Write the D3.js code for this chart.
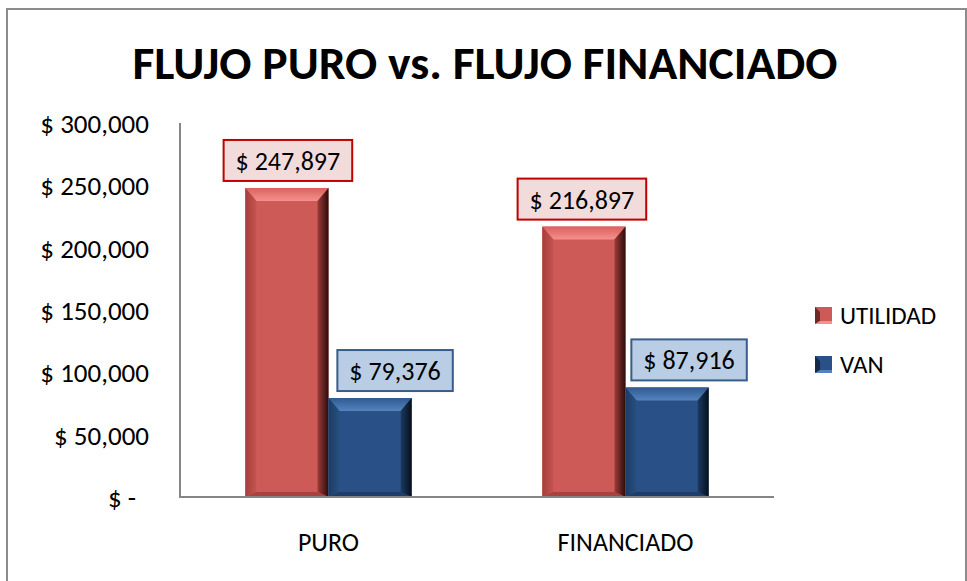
<!DOCTYPE html>
<html><head><meta charset="utf-8">
<script src="https://cdn.jsdelivr.net/npm/d3@7"></script>
<style>
html,body{margin:0;padding:0;background:#fff;}
svg text{font-family:Carlito,Lato,"Open Sans",sans-serif;fill:#000;}
</style></head>
<body>
<svg id="chart" width="967" height="581"></svg>
<script>
const title = "FLUJO PURO vs. FLUJO FINANCIADO";
const categories = ["PURO", "FINANCIADO"];
const seriesNames = ["UTILIDAD", "VAN"];
const utilidad = [247897, 216897];
const van = [79376, 87916];
const yTicks = [0, 50000, 100000, 150000, 200000, 250000, 300000];

const svg = d3.select("#chart");
const plot = {left: 180, right: 774, top: 123, bottom: 497};

// frame
svg.append("rect").attr("x", 7).attr("y", 9).attr("width", 959).attr("height", 620)
  .attr("fill", "#fff").attr("stroke", "#8c8c8c").attr("stroke-width", 2);

// title
svg.append("text").attr("x", 485).attr("y", 79).attr("text-anchor", "middle")
  .attr("font-weight", "bold").attr("font-size", 47)
  .attr("textLength", 705).attr("lengthAdjust", "spacingAndGlyphs")
  .text(title);

const y = d3.scaleLinear().domain([0, 300000]).range([plot.bottom, plot.top]);
const x0 = d3.scaleBand().domain(categories).range([plot.left, plot.right]).paddingInner(0.44).paddingOuter(0.22);
const x1 = d3.scaleBand().domain(seriesNames).range([0, x0.bandwidth()]).padding(0);

const fmt = v => v === 0 ? "$ -" : "$ " + d3.format(",")(v);

// y axis labels
const yAxis = d3.axisLeft(y).tickValues(yTicks).tickSize(0).tickPadding(0).tickFormat(fmt);
const gy = svg.append("g").attr("transform", `translate(${plot.left - 31},0)`).call(yAxis);
gy.select(".domain").remove();
gy.attr("font-size", null).attr("font-family", null);
gy.selectAll("text").style("font-size", "27px").attr("fill", "#000").attr("dy", "0.35em");
gy.selectAll(".tick").filter(d => d === 0).select("text").attr("x", -13);

// axis line
svg.append("line").attr("x1", plot.left).attr("x2", plot.left).attr("y1", plot.top).attr("y2", plot.bottom + 1)
  .attr("stroke", "#868686").attr("stroke-width", 2);

// gradients
const defs = svg.append("defs");
function lg(id, stops, x2, y2) {
  const g = defs.append("linearGradient").attr("id", id).attr("x1", 0).attr("y1", 0).attr("x2", x2).attr("y2", y2);
  stops.forEach(s => g.append("stop").attr("offset", s[0]).attr("stop-color", s[1]));
}
const pal = {
  UTILIDAD: {main: "#CD5A56", top: ["#D9625E", "#F5908C"], left: ["#A63E3B", "#C45450"], right: ["#9E3C39", "#2A0C0B"], bottom: "#A8423F"},
  VAN: {main: "#2A5187", top: ["#2F5A92", "#5583BD"], left: ["#1D3C66", "#28507F"], right: ["#1C3A63", "#07101C"], bottom: "#1E3D68"}
};
Object.entries(pal).forEach(([k, p]) => {
  lg("top" + k, [[0, p.top[0]], [1, p.top[1]]], 0, 1);
  lg("left" + k, [[0, p.left[0]], [1, p.left[1]]], 1, 0);
  lg("right" + k, [[0, p.right[0]], [1, p.right[1]]], 1, 0);
});

const rows = [];
categories.forEach((c, i) => {
  rows.push({cat: c, s: "UTILIDAD", v: utilidad[i]});
  rows.push({cat: c, s: "VAN", v: van[i]});
});

const bars = svg.append("g");
rows.forEach(d => {
  const xa = x0(d.cat) + x1(d.s), xb = xa + x1.bandwidth();
  const ya = y(d.v), yb = y(0);
  const p = pal[d.s];
  const b = 11, bt = 13, bb = 5;
  const g = bars.append("g");
  g.append("rect").attr("x", xa).attr("y", ya).attr("width", xb - xa).attr("height", yb - ya).attr("fill", p.main);
  g.append("path").attr("d", `M${xa},${ya}L${xb},${ya}L${xb - b},${ya + bt}L${xa + b},${ya + bt}Z`).attr("fill", `url(#top${d.s})`);
  g.append("path").attr("d", `M${xa},${ya}L${xa + b},${ya + bt}L${xa + b},${yb - bb}L${xa},${yb}Z`).attr("fill", `url(#left${d.s})`);
  g.append("path").attr("d", `M${xb},${ya}L${xb - b},${ya + bt}L${xb - b},${yb - bb}L${xb},${yb}Z`).attr("fill", `url(#right${d.s})`);
  g.append("path").attr("d", `M${xa},${yb}L${xa + b},${yb - bb}L${xb - b},${yb - bb}L${xb},${yb}Z`).attr("fill", p.bottom);
});

svg.append("line").attr("x1", plot.left - 1).attr("x2", plot.right).attr("y1", plot.bottom).attr("y2", plot.bottom)
  .attr("stroke", "#868686").attr("stroke-width", 2);

// data labels
const labStyle = {
  UTILIDAD: {fill: "#F2DCDB", stroke: "#C00000"},
  VAN: {fill: "#B9CDE5", stroke: "#385D8A"}
};
rows.forEach(d => {
  const st = labStyle[d.s];
  const cx = x0(d.cat) + x1(d.s) + x1.bandwidth() / 2 + (d.s === "VAN" ? (d.cat === "PURO" ? 25 : 22) : (d.cat === "PURO" ? 1 : -2));
  const yb = y(d.v) - 7;
  const g = svg.append("g");
  const r = g.append("rect");
  const t = g.append("text").attr("x", cx).attr("y", yb - 20).attr("dy", "0.35em")
    .attr("text-anchor", "middle").attr("font-size", 26).text(fmt(d.v));
  const w = t.node().getComputedTextLength() + 24;
  r.attr("x", cx - w / 2).attr("y", yb - 41).attr("width", w).attr("height", 41)
    .attr("fill", st.fill).attr("stroke", st.stroke).attr("stroke-width", 2);
});

// category labels
categories.forEach(c => {
  svg.append("text").attr("x", x0(c) + x0.bandwidth() / 2).attr("y", 551).attr("text-anchor", "middle")
    .attr("font-size", 26).text(c);
});

// legend
const leg = svg.append("g");
seriesNames.forEach((s, i) => {
  const ly = 315 + i * 49;
  const p = pal[s];
  const sx = 815, sz = 17, sy = ly - 8;
  leg.append("rect").attr("x", sx).attr("y", sy).attr("width", sz).attr("height", sz).attr("fill", p.main);
  leg.append("path").attr("d", `M${sx},${sy}L${sx + 5},${sy + 5}L${sx + 5},${sy + sz - 3}L${sx},${sy + sz}Z`).attr("fill", p.right[1]).attr("opacity", 0.6);
  leg.append("path").attr("d", `M${sx},${sy + sz}L${sx + 5},${sy + sz - 3}L${sx + sz},${sy + sz - 3}L${sx + sz},${sy + sz}Z`).attr("fill", p.top[1]);
  leg.append("text").attr("x", 840).attr("y", ly).attr("dy", "0.35em").attr("font-size", 25).text(s);
});
</script>
</body></html>
